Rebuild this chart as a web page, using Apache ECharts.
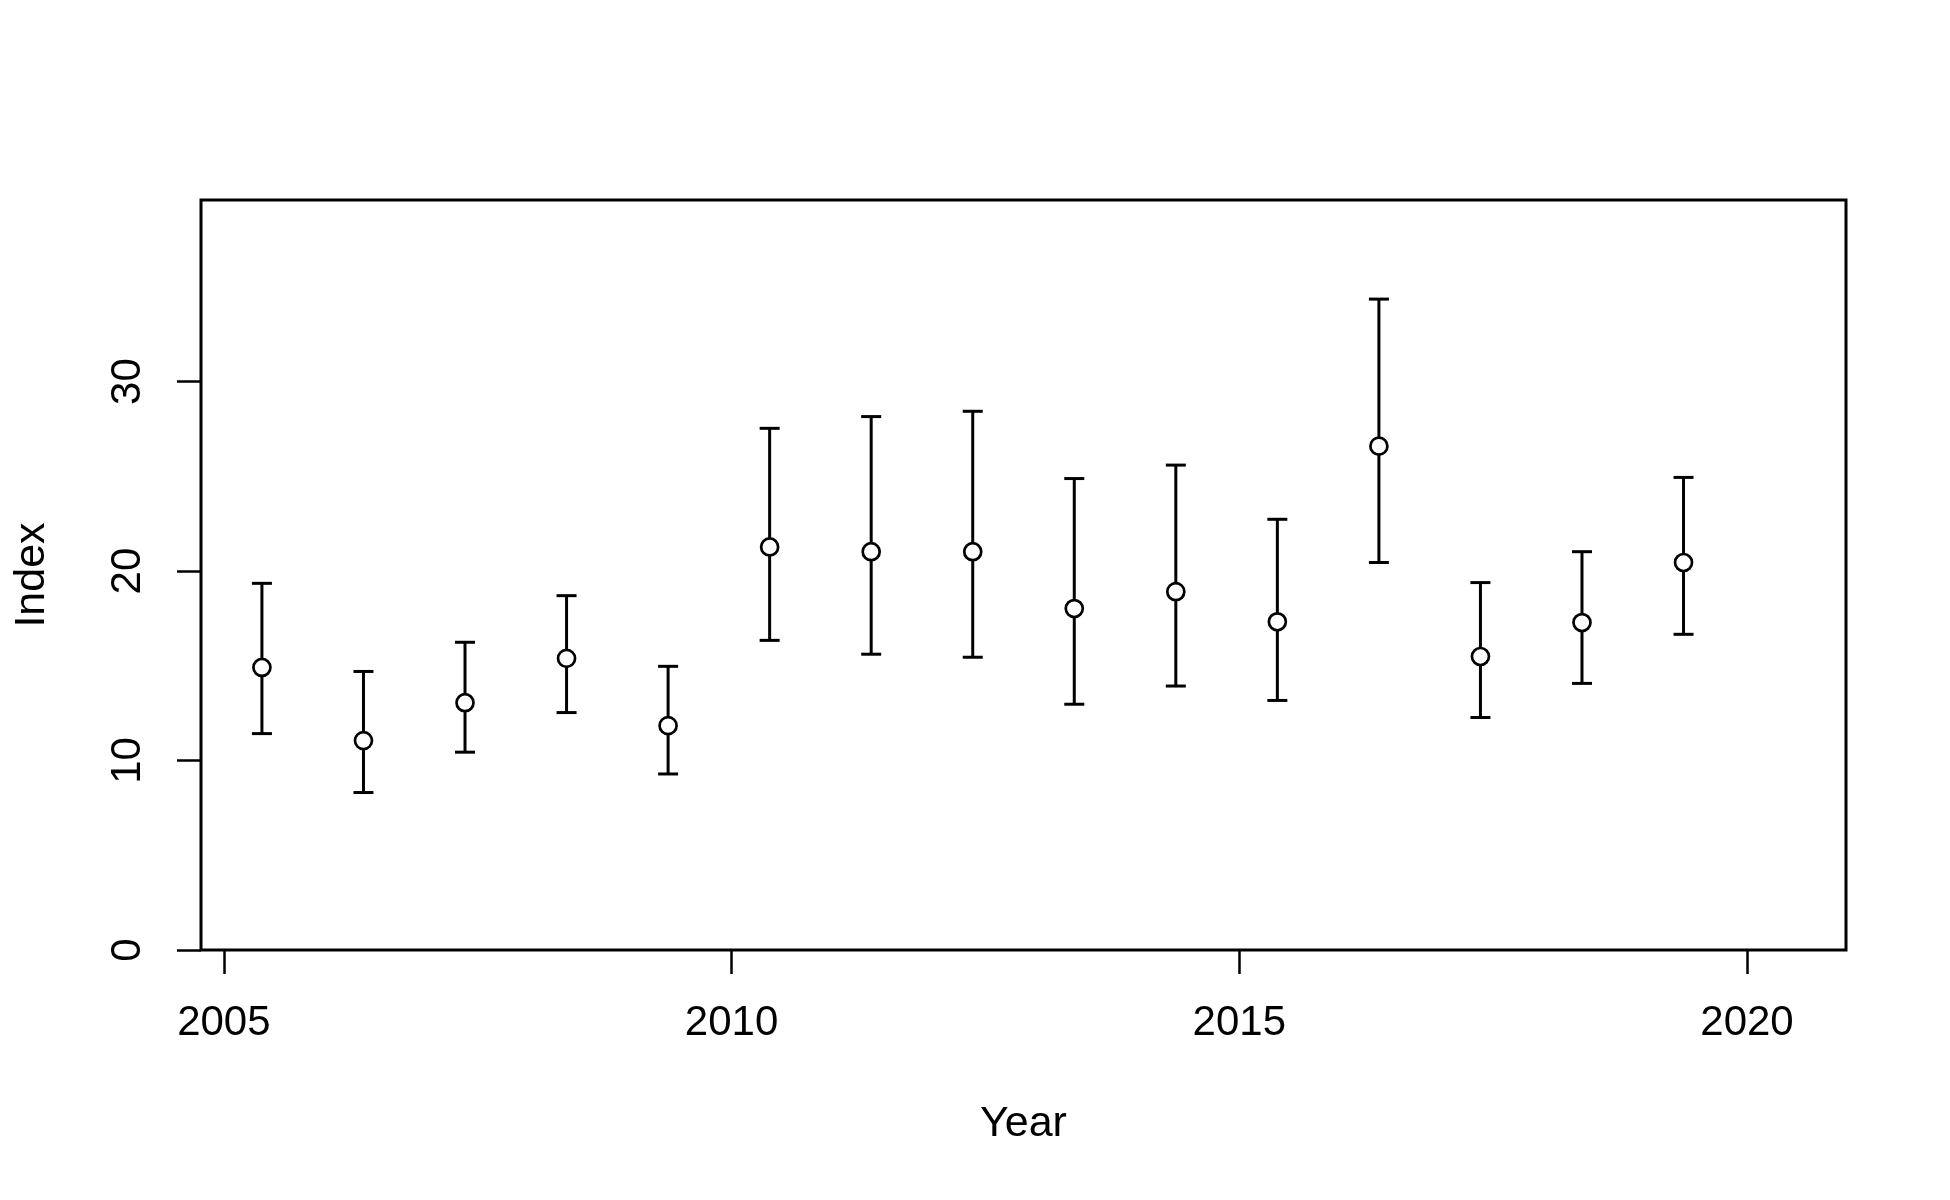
<!DOCTYPE html>
<html>
<head>
<meta charset="utf-8">
<script src="https://cdn.jsdelivr.net/npm/echarts@6/dist/echarts.min.js"></script>
<style>
html,body{margin:0;padding:0;background:#fff;}
#chart{width:1950px;height:1200px;}
</style>
</head>
<body>
<div id="chart"></div>
<script>
const years = [2005.375, 2006.375, 2007.375, 2008.375, 2009.375, 2010.375, 2011.375, 2012.375, 2013.375, 2014.375, 2015.375, 2016.375, 2017.375, 2018.375, 2019.375];
const indexValues = [14.91, 11.05, 13.05, 15.39, 11.84, 21.27, 21.02, 21.02, 18.02, 18.91, 17.32, 26.59, 15.49, 17.28, 20.45];
const lowerValues = [11.42, 8.31, 10.44, 12.53, 9.29, 16.34, 15.61, 15.45, 12.97, 13.93, 13.17, 20.45, 12.27, 14.07, 16.66];
const upperValues = [19.35, 14.70, 16.24, 18.70, 14.97, 27.53, 28.15, 28.43, 24.88, 25.59, 22.73, 34.35, 19.39, 21.02, 24.94];
const xTicks = [2005, 2010, 2015, 2020];
const yTicks = [0, 10, 20, 30];

const FONT = '"Liberation Sans", Arial, sans-serif';
const pointData = years.map((y, i) => [y, indexValues[i]]);
const barData = years.map((y, i) => [y, lowerValues[i], upperValues[i]]);

const chart = echarts.init(document.getElementById('chart'), null, {renderer: 'canvas'});
chart.setOption({
  animation: false,
  backgroundColor: '#ffffff',
  grid: {
    left: 201, top: 200, width: 1645, height: 750,
    show: true, borderColor: '#000', borderWidth: 3, backgroundColor: 'transparent'
  },
  xAxis: {
    type: 'value', min: 2004.775, max: 2020.975,
    name: 'Year', nameLocation: 'middle', nameGap: 153,
    nameTextStyle: {fontFamily: FONT, fontSize: 43, color: '#000'},
    axisLine: {show: false},
    splitLine: {show: false},
    axisTick: {show: true, inside: false, length: 24, customValues: xTicks, lineStyle: {color: '#000', width: 2.5}},
    axisLabel: {show: true, margin: 52, customValues: xTicks, fontFamily: FONT, fontSize: 42, color: '#000',
      formatter: function (v) { return String(Math.round(v)); }}
  },
  yAxis: {
    type: 'value', min: 0, max: 39.58,
    name: 'Index', nameLocation: 'middle', nameGap: 147,
    nameTextStyle: {fontFamily: FONT, fontSize: 43, color: '#000'},
    axisLine: {show: false},
    splitLine: {show: false},
    axisTick: {show: true, inside: false, length: 24, customValues: yTicks, lineStyle: {color: '#000', width: 2.5}},
    axisLabel: {show: true, margin: 52, rotate: 90, customValues: yTicks, fontFamily: FONT, fontSize: 42, color: '#000',
      formatter: function (v) { return String(Math.round(v)); }}
  },
  series: [
    {
      type: 'custom',
      z: 1,
      data: barData,
      encode: {x: 0, y: [1, 2]},
      renderItem: function (params, api) {
        const x = api.value(0);
        const lo = api.coord([x, api.value(1)]);
        const hi = api.coord([x, api.value(2)]);
        const half = 10;
        const style = {stroke: '#000', lineWidth: 3, fill: null};
        return {
          type: 'group',
          children: [
            {type: 'line', shape: {x1: lo[0], y1: lo[1], x2: hi[0], y2: hi[1]}, style: style},
            {type: 'line', shape: {x1: hi[0] - half, y1: hi[1], x2: hi[0] + half, y2: hi[1]}, style: style},
            {type: 'line', shape: {x1: lo[0] - half, y1: lo[1], x2: lo[0] + half, y2: lo[1]}, style: style}
          ]
        };
      }
    },
    {
      type: 'scatter',
      z: 2,
      data: pointData,
      symbol: 'circle',
      symbolSize: 17,
      itemStyle: {color: '#ffffff', borderColor: '#000', borderWidth: 2.7, opacity: 1}
    }
  ]
});
</script>
</body>
</html>
